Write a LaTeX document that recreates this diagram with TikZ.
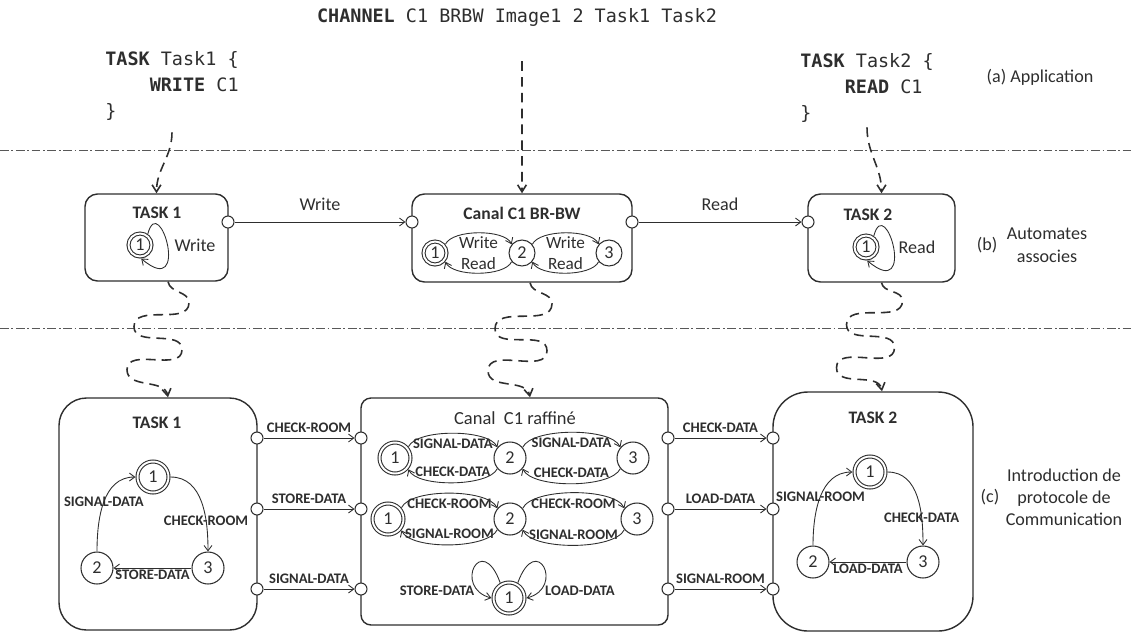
\documentclass[tikz,border=0pt]{standalone}
\usepackage{fontspec}
\setmainfont{Carlito}
\newfontfamily\codefont{DejaVu Sans Mono}
\usepackage{tikz}
\usetikzlibrary{arrows.meta, positioning, fit, calc}

\definecolor{ink}{HTML}{2E2E2E}
\newcommand\codesize{\codefont\fontsize{10.5}{14.7}\selectfont}
\newcommand\ttlfont{\bfseries\fontsize{10}{12}\selectfont}
\newcommand\lblfont{\bfseries\fontsize{8.3}{9.5}\selectfont}
\newcommand\txtfont{\fontsize{10.3}{13}\selectfont}

\begin{document}
\begin{tikzpicture}[
    x=0.02cm, y=0.02cm,
    box/.style={draw=ink, line width=0.8pt, rounded corners=0.25cm, inner sep=0pt},
    ttl/.style={font=\ttlfont, text=ink, inner sep=0pt},
    txt/.style={font=\txtfont, text=ink, align=center, inner sep=0pt},
    ilbl/.style={font=\fontsize{9.8}{11}\selectfont, text=ink, inner sep=1pt},
    code/.style={font=\codesize, text=ink, align=left, inner sep=0pt, anchor=north west},
    st/.style={circle, draw=ink, line width=0.6pt, minimum size=0.64cm, inner sep=0pt, font=\txtfont, text=ink},
    acc/.style={st, double=white, double distance=1.1pt, outer sep=1.2pt, minimum size=0.62cm},
    sm/.style={minimum size=0.52cm},
    smacc/.style={minimum size=0.46cm},
    port/.style={circle, draw=ink, fill=white, line width=0.6pt, minimum size=0.24cm, inner sep=0pt},
    tr/.style={-{Straight Barb[length=3pt,width=4.5pt]}, draw=ink, line width=0.5pt},
    lbl/.style={font=\lblfont, text=ink, inner sep=1pt},
    up/.style={out=65, in=115, looseness=#1},
    dn/.style={out=-115, in=-65, looseness=#1},
    wavy/.style={-{Straight Barb[length=4pt,width=5pt]}, draw=ink, line width=0.9pt, dash pattern=on 5.5pt off 3.5pt},
    sepline/.style={draw=ink!80, line width=0.5pt, dash pattern=on 5pt off 1.5pt on 1pt off 1.5pt}
]
\useasboundingbox (0,0) rectangle (1131,-633);

% (a) application
\node[font=\codesize, text=ink] (chan) at (517,-17) {\textbf{CHANNEL} C1 BRBW Image1 2 Task1 Task2};
\node[code] (codeT1) at (105,-51) {\textbf{TASK} Task1 \{\\\phantom{\textbf{TASK}}\textbf{WRITE} C1\\\}};
\node[code] (codeT2) at (800,-53) {\textbf{TASK} Task2 \{\\\phantom{\textbf{TASK}}\textbf{READ} C1\\\}};
\node[txt] (appA) at (1040,-77) {(a) Application};

\draw[sepline] (0,-150) -- (1131,-150);
\draw[sepline] (0,-328) -- (1131,-328);

% (b) automates associes
\node[box, fit={(85,-194) (228,-281)}] (bT1) {};
\node[box, fit={(412,-194) (632,-282)}] (bCa) {};
\node[box, fit={(808,-194) (955,-282)}] (bT2) {};
\node[ttl] (tbT1) at (157,-213) {TASK 1};
\node[ttl] (tbCa) at (522,-213) {Canal C1 BR-BW};
\node[ttl] (tbT2) at (868,-215) {TASK 2};

\node[acc, smacc] (bA1) at (140,-245) {1};
\node[txt] (lbW) at (195,-245) {Write};
\draw[tr] (bA1.55) .. controls +(75:45) and +(-40:65) .. (bA1.-85);

\node[acc, smacc] (bC1) at (435,-253) {1};
\node[st, sm] (bC2) at (522,-253) {2};
\node[st, sm] (bC3) at (609,-253) {3};
\draw[tr] (bC1.40) to[up=0.65] node[below=1pt, ilbl] {Write} (bC2.140);
\draw[tr] (bC2.-140) to[dn=0.65] node[above=1pt, ilbl] {Read} (bC1.-40);
\draw[tr] (bC2.40) to[up=0.65] node[below=1pt, ilbl] {Write} (bC3.140);
\draw[tr] (bC3.-140) to[dn=0.65] node[above=1pt, ilbl] {Read} (bC2.-40);

\node[acc, smacc] (bB1) at (866,-247) {1};
\node[txt] (lbR) at (917,-247) {Read};
\draw[tr] (bB1.55) .. controls +(75:45) and +(-40:65) .. (bB1.-85);

\node[port] (pbT1) at (228,-222) {};
\node[port] (pbCl) at (412,-222) {};
\node[port] (pbCr) at (632,-222) {};
\node[port] (pbT2) at (808,-222) {};
\draw[tr] (pbT1) -- node[txt, above=6pt] {Write} (pbCl);
\draw[tr] (pbCr) -- node[txt, above=6pt] {Read} (pbT2);

\node[txt] (bLbl) at (987,-245) {(b)};
\node[txt] (bTxt) at (1047,-245) {Automates\\associes};

% (c) protocole de communication
\node[box, rounded corners=0.55cm, fit={(59,-398) (257,-630)}] (cT1) {};
\node[box, rounded corners=0.2cm, fit={(361,-398) (668,-625)}] (cCa) {};
\node[box, rounded corners=0.7cm, fit={(773,-392) (973,-631)}] (cT2) {};
\node[ttl] (tcT1) at (157,-423) {TASK 1};
\node[txt, font=\fontsize{10.5}{12}\selectfont] (tcCa) at (515,-418) {Canal\ \ C1 raffiné};
\node[ttl] (tcT2) at (873,-418) {TASK 2};

\node[acc] (c1A) at (153,-477) {1};
\node[st] (c1B) at (97,-568) {2};
\node[st] (c1C) at (208,-568) {3};
\draw[tr] (c1B) to[out=90,in=180] node[lbl, midway] {SIGNAL-DATA} (c1A);
\draw[tr] (c1A) to[out=0,in=90] node[lbl, pos=0.7] {CHECK-ROOM} (c1C);
\draw[tr] (c1C) -- node[lbl, below] {STORE-DATA} (c1B);

\node[acc] (r1A) at (395,-458) {1};
\node[st] (r1B) at (510,-458) {2};
\node[st] (r1C) at (633,-458) {3};
\draw[tr] (r1A.40) to[up=0.58] node[lbl, below=2pt] {SIGNAL-DATA} (r1B.140);
\draw[tr] (r1B.-140) to[dn=0.58] node[lbl, above=2pt] {CHECK-DATA} (r1A.-40);
\draw[tr] (r1B.40) to[up=0.58] node[lbl, below=2pt] {SIGNAL-DATA} (r1C.140);
\draw[tr] (r1C.-140) to[dn=0.58] node[lbl, above=2pt] {CHECK-DATA} (r1B.-40);

\node[acc] (r2A) at (388,-519) {1};
\node[st] (r2B) at (510,-519) {2};
\node[st] (r2C) at (637,-519) {3};
\draw[tr] (r2A.40) to[up=0.58] node[lbl, below=2pt] {CHECK-ROOM} (r2B.140);
\draw[tr] (r2B.-140) to[dn=0.58] node[lbl, above=2pt] {SIGNAL-ROOM} (r2A.-40);
\draw[tr] (r2B.40) to[up=0.58] node[lbl, below=2pt] {CHECK-ROOM} (r2C.140);
\draw[tr] (r2C.-140) to[dn=0.58] node[lbl, above=2pt] {SIGNAL-ROOM} (r2B.-40);

\node[acc] (r3A) at (509,-598) {1};
\draw[tr] (r3A.120) .. controls +(110:55) and +(165:40) .. (r3A.180);
\draw[tr] (r3A.60) .. controls +(70:55) and +(15:40) .. (r3A.0);
\node[lbl] (r3L) at (437,-591) {STORE-DATA};
\node[lbl] (r3R) at (580,-591) {LOAD-DATA};

\node[acc] (c2A) at (870,-472) {1};
\node[st] (c2B) at (813,-562) {2};
\node[st] (c2C) at (923,-562) {3};
\draw[tr] (c2B) to[out=90,in=180] node[lbl, midway] {SIGNAL-ROOM} (c2A);
\draw[tr] (c2A) to[out=0,in=90] node[lbl, pos=0.72] {CHECK-DATA} (c2C);
\draw[tr] (c2C) -- node[lbl, below] {LOAD-DATA} (c2B);

\node[port] (pT1a) at (257,-438) {};
\node[port] (pT1b) at (257,-509) {};
\node[port] (pT1c) at (257,-589) {};
\node[port] (pCla) at (361,-438) {};
\node[port] (pClb) at (361,-509) {};
\node[port] (pClc) at (361,-589) {};
\node[port] (pCra) at (668,-438) {};
\node[port] (pCrb) at (668,-509) {};
\node[port] (pCrc) at (668,-589) {};
\node[port] (pT2a) at (773,-438) {};
\node[port] (pT2b) at (773,-509) {};
\node[port] (pT2c) at (773,-589) {};
\draw[tr] (pT1a) -- node[lbl, above=2pt] {CHECK-ROOM} (pCla);
\draw[tr] (pT1b) -- node[lbl, above=2pt] {STORE-DATA} (pClb);
\draw[tr] (pT1c) -- node[lbl, above=2pt] {SIGNAL-DATA} (pClc);
\draw[tr] (pCra) -- node[lbl, above=2pt] {CHECK-DATA} (pT2a);
\draw[tr] (pCrb) -- node[lbl, above=2pt] {LOAD-DATA} (pT2b);
\draw[tr] (pCrc) -- node[lbl, above=2pt] {SIGNAL-ROOM} (pT2c);

\node[txt] (cLbl) at (990,-497) {(c)};
\node[txt, font=\fontsize{10.3}{12.5}\selectfont] (cTxt) at (1064,-497) {Introduction de\\protocole de\\Communication};

% refinement arrows
\draw[wavy] ([yshift=-0.24cm]codeT1.south) to[out=-90,in=90] (bT1.north);
\draw[wavy] ([xshift=0.1cm,yshift=-0.58cm]chan.south) -- (bCa.north);
\draw[wavy] ([yshift=-0.1cm]codeT2.south) to[out=-90,in=90] (bT2.north);
\draw[wavy] ([xshift=0.23cm]bT1.south) to[out=-80,in=90] ++(21,-21) to[out=-90,in=90] ++(-55,-24)
    to[out=-90,in=90] ++(48,-23) to[out=-90,in=90] ++(-55,-20) to[out=-90,in=100] ([xshift=0.2cm]cT1.north);
\draw[wavy] ([xshift=0.16cm]bCa.south) to[out=-80,in=90] ++(22,-21) to[out=-90,in=90] ++(-57,-25)
    to[out=-90,in=90] ++(52,-22) to[out=-90,in=90] ++(-59,-20) to[out=-90,in=100] ([xshift=0.31cm]cCa.north);
\draw[wavy] (bT2.south) to[out=-80,in=90] ++(21,-18) to[out=-90,in=90] ++(-56,-24)
    to[out=-90,in=90] ++(48,-23) to[out=-90,in=90] ++(-58,-20) to[out=-90,in=100] ([xshift=0.18cm]cT2.north);
\end{tikzpicture}
\end{document}
